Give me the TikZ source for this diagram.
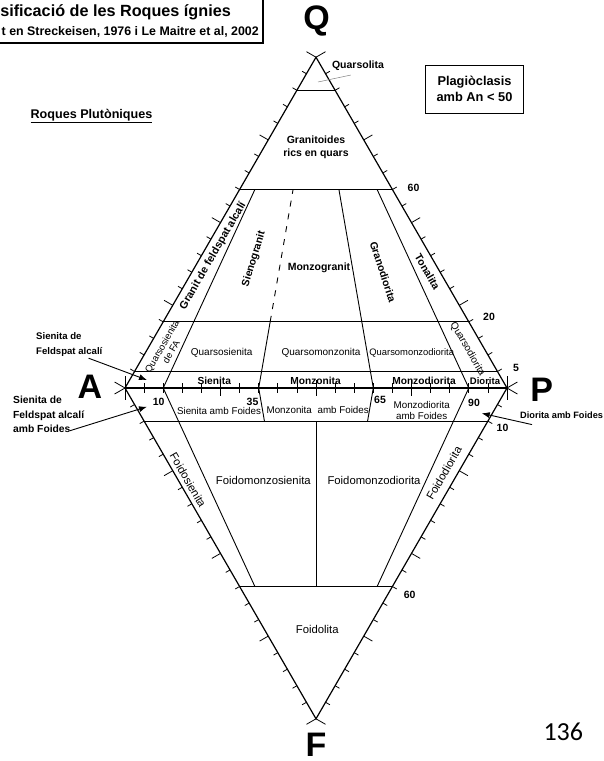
\documentclass[tikz,border=0pt]{standalone}
\usepackage{fontspec}
\setmainfont{Liberation Sans}
\newfontfamily\calib{Carlito}
\usetikzlibrary{calc,arrows.meta}
\newcommand\fsz[2]{\fontsize{#1}{#2}\selectfont}
\begin{document}
\begin{tikzpicture}[x=1pt,y=-1pt,
  edge/.style={line width=1.2pt},
  inner/.style={line width=0.9pt},
  tickline/.style={line width=0.8pt},
  lab/.style={inner sep=0pt, font=\fsz{10}{12}},
  blab/.style={inner sep=0pt, font=\bfseries\fsz{10.5}{12.6}},
  flab/.style={inner sep=0pt, font=\fsz{11.3}{13}},
  num/.style={inner sep=0pt, font=\bfseries\fsz{10.5}{12}},
  apex/.style={inner sep=0pt, font=\bfseries\fsz{34}{40}},
  side/.style={inner sep=0pt, align=left, anchor=west},
  arr/.style={line width=0.9pt, -{Latex[length=8pt,width=6pt]}},
  leader/.style={gray, line width=0.5pt},
]
\useasboundingbox (0,0) rectangle (603,761);

% vertices
\coordinate (A) at (125,388);
\coordinate (P) at (507,388);
\coordinate (Q) at (316,57.2);
\coordinate (F) at (316,718.8);

% outline
\draw[edge, line join=miter] (A) -- (Q) -- (P) -- (F) -- cycle;
\draw[line width=1.6pt] (A) -- (P);

% ticks along the edges
\foreach \t in {5,10,...,95}{
  \pgfmathsetmacro\ticklen{ifthenelse(mod(\t,25)==0,10,5)}
  \pgfmathsetmacro\tickhalf{ifthenelse(mod(\t,25)==0,8,5)}
  \draw[tickline] ($(P)!\t/100!(Q)$) -- ++(30:\ticklen pt);
  \draw[tickline] ($(A)!\t/100!(Q)$) -- ++(150:\ticklen pt);
  \draw[tickline] ($(A)!\t/100!(F)$) -- ++(210:\ticklen pt);
  \draw[tickline] ($(P)!\t/100!(F)$) -- ++(330:\ticklen pt);
  \draw[tickline] ($(A)!\t/100!(P)$) ++(0pt,\tickhalf pt) -- ++(0pt,-2*\tickhalf pt);
}
% vertex ticks
\draw[tickline] (Q) -- ++(30:11pt);
\draw[tickline] (Q) -- ++(150:11pt);
\draw[tickline] (F) -- ++(210:11pt);
\draw[tickline] (F) -- ++(330:11pt);
\draw[tickline] (A) -- ++(150:12pt);
\draw[tickline] (A) -- ++(210:12pt);
\draw[tickline] (A) ++(0pt,12pt) -- ++(0pt,-24pt);
\draw[tickline] (P) -- ++(30:12pt);
\draw[tickline] (P) -- ++(330:12pt);
\draw[tickline] (P) ++(0pt,12pt) -- ++(0pt,-24pt);

% horizontal field lines
\draw[inner] ($(A)!.9!(Q)$) -- ($(P)!.9!(Q)$);
\draw[inner] ($(A)!.6!(Q)$) -- ($(P)!.6!(Q)$);
\draw[inner] ($(A)!.2!(Q)$) -- ($(P)!.2!(Q)$);
\draw[inner] ($(A)!.05!(Q)$) -- ($(P)!.05!(Q)$);
\draw[inner] ($(A)!.1!(F)$) -- ($(P)!.1!(F)$);
\draw[inner] ($(A)!.6!(F)$) -- ($(P)!.6!(F)$);

% radial field lines, QAP
\draw[inner] ($(A)!.1!(P)$) -- ($(A)!.1!(P)!.6!(Q)$);
\draw[inner] ($(A)!.35!(P)$) -- ($(A)!.35!(P)!.2!(Q)$);
\draw[inner, dash pattern=on 6pt off 7pt] ($(A)!.35!(P)!.2!(Q)$) -- ($(A)!.35!(P)!.6!(Q)$);
\draw[inner] ($(A)!.65!(P)$) -- ($(A)!.65!(P)!.6!(Q)$);
\draw[inner] ($(A)!.9!(P)$) -- ($(A)!.9!(P)!.6!(Q)$);
% radial field lines, APF
\draw[inner] ($(A)!.1!(P)$) -- ($(A)!.1!(P)!.6!(F)$);
\draw[inner] ($(A)!.35!(P)$) -- ($(A)!.35!(P)!.1!(F)$);
\draw[inner] ($(A)!.65!(P)$) -- ($(A)!.65!(P)!.1!(F)$);
\draw[inner] ($(A)!.9!(P)$) -- ($(A)!.9!(P)!.6!(F)$);
\draw[inner] ($(A)!.5!(P)!.1!(F)$) -- ($(A)!.5!(P)!.6!(F)$);

% title box (cropped at left)
\draw[line width=1.4pt] (-20,-2) rectangle (263,43);
\node[anchor=base east, inner sep=0pt, font=\bfseries\fsz{16.2}{19}] (title1) at (231,16) {sificació de les Roques ígnies};
\node[anchor=base east, inner sep=0pt, font=\bfseries\fsz{12.4}{15}] (title2) at (259,35.5) {t en Streckeisen, 1976 i Le Maitre et al, 2002};

\node[inner sep=0pt, font=\bfseries\fsz{12.6}{15}] (roques) at (91.5,116) {\underline{Roques Plutòniques}};
\node[draw, line width=1pt, minimum width=97.6pt, minimum height=48.3pt, align=center, inner sep=0pt, font=\bfseries\fsz{12.8}{16}] (plag) at (474.5,89.2) {Plagiòclasis\\amb An < 50};

% apex letters
\node[apex] (lQ) at (316.5,21) {Q};
\node[apex] (lA) at (90,387) {A};
\node[apex] (lP) at (541.7,390) {P};
\node[apex] (lF) at (316,744.5) {F};

% upper fields
\node[blab] (quarsolita) at (358,66) {Quarsolita};
\coordinate (qsLeaderEnd) at (318,82);
\draw[leader] ([xshift=19pt,yshift=-4pt]quarsolita.south west) -- (qsLeaderEnd);
\node[blab, align=center, font=\bfseries\fsz{10.5}{13}] (granit) at (316,147.5) {Granitoides\\rics en quars};
\node[blab, rotate=60, font=\bfseries\fsz{10.8}{13}] (gfa) at (213,256) {Granit de feldspat alcalí};
\node[blab, rotate=73] (sieno) at (254,259) {Sienogranit};
\node[blab] (monzog) at (319,268) {Monzogranit};
\node[blab, rotate=-72] (granod) at (383,272) {Granodiorita};
\node[blab, rotate=-60] (tonal) at (427.5,272) {Tonalita};

% quartz-bearing row
\node[lab, rotate=60, align=center, font=\fsz{9.5}{10.5}] (qsFA) at (166.5,349) {Quarsosienita\\de FA};
\node[lab] (qsien) at (221.7,352.7) {Quarsosienita};
\node[lab] (qmonz) at (321,352.7) {Quarsomonzonita};
\node[lab, font=\fsz{9.4}{11}] (qmd) at (411.7,352.7) {Quarsomonzodiorita};
\node[lab, rotate=-60] (qdior) at (467.5,349) {Quarsodiorita};

% Q < 5 row
\node[blab, font=\bfseries\fsz{10.2}{12}] (sien) at (214.3,380.5) {Sienita};
\node[blab, font=\bfseries\fsz{10.2}{12}] (monz) at (315.5,380.5) {Monzonita};
\node[blab, font=\bfseries\fsz{10.2}{12}] (monzd) at (424,380.5) {Monzodiorita};
\node[blab, font=\bfseries\fsz{9.5}{12}] (dior) at (485,381) {Diorita};

% foid-bearing row
\node[lab, font=\fsz{9.8}{11}] (sienF) at (219,410.5) {Sienita amb Foides};
\node[lab, font=\fsz{9.8}{11}] (monzF) at (317.7,409.5) {Monzonita\hspace{3pt} amb Foides};
\node[lab, align=center, font=\fsz{9.8}{11}] (monzdF) at (421.7,410.5) {Monzodiorita\\amb Foides};

% foid fields
\node[flab] (fms) at (263.3,480.7) {Foidomonzosienita};
\node[flab] (fmd) at (374,480.7) {Foidomonzodiorita};
\node[flab, rotate=-60] (fsien) at (188,480) {Foidosienita};
\node[flab, rotate=60] (fdior) at (444,473) {Foidodiorita};
\node[flab] (foidol) at (317.3,629.3) {Foidolita};

% numbers
\node[num] (n10) at (158.7,401.7) {10};
\node[num] (n35) at (252.5,401.7) {35};
\node[num] (n65) at (380,400) {65};
\node[num] (n90) at (474,402.7) {90};
\node[num] (n60a) at (413.5,187.5) {60};
\node[num] (n20) at (489,317.3) {20};
\node[num] (n5) at (516,368.3) {5};
\node[num] (n10b) at (502.5,428.3) {10};
\node[num] (n60b) at (409.7,595) {60};

% side labels with arrows
\node[side, font=\bfseries\fsz{9.6}{15}] (lblSFA) at (36,345) {Sienita de\\Feldspat alcalí};
\node[side, font=\bfseries\fsz{10.3}{14.2}] (lblSFAF) at (13,414.5) {Sienita de\\Feldspat alcalí\\amb Foides};
\node[side, font=\bfseries\fsz{9.2}{11}] (lblDAF) at (520,415) {Diorita amb Foides};
\coordinate (tipSFA) at (147,380);
\coordinate (tipSFAF) at (147,406.7);
\coordinate (tipDAF) at (481.7,413.3);
\draw[arr] ([xshift=-14pt,yshift=-1pt]lblSFA.south east) -- (tipSFA);
\draw[arr] ([xshift=57pt,yshift=2pt]lblSFAF.south west) -- (tipSFAF);
\draw[arr] ([xshift=12pt,yshift=-6pt]lblDAF.south west) -- (tipDAF);

\node[inner sep=0pt, font=\calib\fsz{26}{30}] (pgnum) at (563.3,731.7) {136};
\end{tikzpicture}
\end{document}
